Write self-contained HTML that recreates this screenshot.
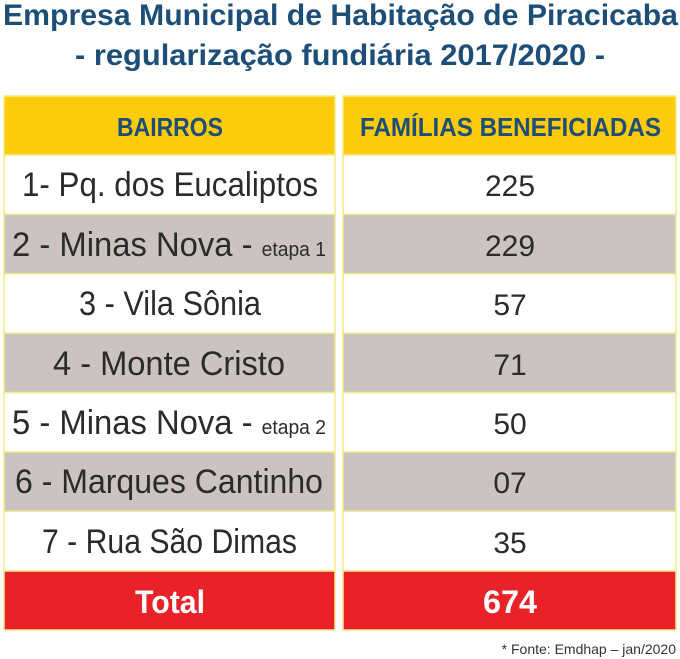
<!DOCTYPE html>
<html><head><meta charset="utf-8"><style>
html,body{margin:0;padding:0;background:#fff;}
svg{display:block;}
text{font-family:"Liberation Sans",sans-serif;}
</style></head><body>
<svg width="680" height="659" viewBox="0 0 680 659" xmlns="http://www.w3.org/2000/svg">
<rect width="680" height="659" fill="#fff"/>
<g fill="#1d4e78" font-weight="bold" font-size="30">
<text x="3" y="25" textLength="675" lengthAdjust="spacingAndGlyphs">Empresa Municipal de Habitação de Piracicaba</text>
<text x="75" y="65" textLength="530" lengthAdjust="spacingAndGlyphs">- regularização fundiária 2017/2020 -</text>
</g>
<g stroke="#f3ec8a" stroke-width="1.5">
<rect x="4" y="96" width="331" height="59" fill="#fccb0b"/>
<rect x="343" y="96" width="333" height="59" fill="#fccb0b"/>
<rect x="4" y="155" width="331" height="59.4" fill="#fff"/>
<rect x="343" y="155" width="333" height="59.4" fill="#fff"/>
<rect x="4" y="214.4" width="331" height="59.4" fill="#cac3c1"/>
<rect x="343" y="214.4" width="333" height="59.4" fill="#cac3c1"/>
<rect x="4" y="273.8" width="331" height="59.4" fill="#fff"/>
<rect x="343" y="273.8" width="333" height="59.4" fill="#fff"/>
<rect x="4" y="333.2" width="331" height="59.4" fill="#cac3c1"/>
<rect x="343" y="333.2" width="333" height="59.4" fill="#cac3c1"/>
<rect x="4" y="392.6" width="331" height="59.4" fill="#fff"/>
<rect x="343" y="392.6" width="333" height="59.4" fill="#fff"/>
<rect x="4" y="452" width="331" height="59.4" fill="#cac3c1"/>
<rect x="343" y="452" width="333" height="59.4" fill="#cac3c1"/>
<rect x="4" y="511.4" width="331" height="59.6" fill="#fff"/>
<rect x="343" y="511.4" width="333" height="59.6" fill="#fff"/>
<rect x="4" y="571" width="331" height="59" fill="#e92128"/>
<rect x="343" y="571" width="333" height="59" fill="#e92128"/>
</g>
<g fill="#1d4e78" font-weight="bold" font-size="26">
<text x="117" y="136" textLength="106" lengthAdjust="spacingAndGlyphs">BAIRROS</text>
<text x="360" y="136" textLength="301" lengthAdjust="spacingAndGlyphs">FAMÍLIAS BENEFICIADAS</text>
</g>
<g fill="#2b2b2b" font-size="34">
<text x="22" y="196" textLength="296" lengthAdjust="spacingAndGlyphs">1- Pq. dos Eucaliptos</text>
<text x="12" y="256" textLength="314" lengthAdjust="spacingAndGlyphs">2 - Minas Nova - <tspan font-size="20">etapa 1</tspan></text>
<text x="79" y="315" textLength="182" lengthAdjust="spacingAndGlyphs">3 - Vila Sônia</text>
<text x="53" y="375" textLength="232" lengthAdjust="spacingAndGlyphs">4 - Monte Cristo</text>
<text x="12" y="434" textLength="314" lengthAdjust="spacingAndGlyphs">5 - Minas Nova - <tspan font-size="20">etapa 2</tspan></text>
<text x="15" y="493" textLength="308" lengthAdjust="spacingAndGlyphs">6 - Marques Cantinho</text>
<text x="42" y="553" textLength="255" lengthAdjust="spacingAndGlyphs">7 - Rua São Dimas</text>
</g>
<g fill="#2b2b2b" font-size="30" text-anchor="middle">
<text x="510" y="196">225</text>
<text x="510" y="256">229</text>
<text x="510" y="315">57</text>
<text x="510" y="375">71</text>
<text x="510" y="434">50</text>
<text x="510" y="493">07</text>
<text x="510" y="553">35</text>
</g>
<g fill="#fff" font-weight="bold" font-size="32">
<text x="135" y="613" textLength="70" lengthAdjust="spacingAndGlyphs">Total</text>
<text x="483" y="613" textLength="54" lengthAdjust="spacingAndGlyphs">674</text>
</g>
<text x="676" y="654" text-anchor="end" font-size="14" fill="#333">* Fonte: Emdhap – jan/2020</text>
</svg>
</body></html>
